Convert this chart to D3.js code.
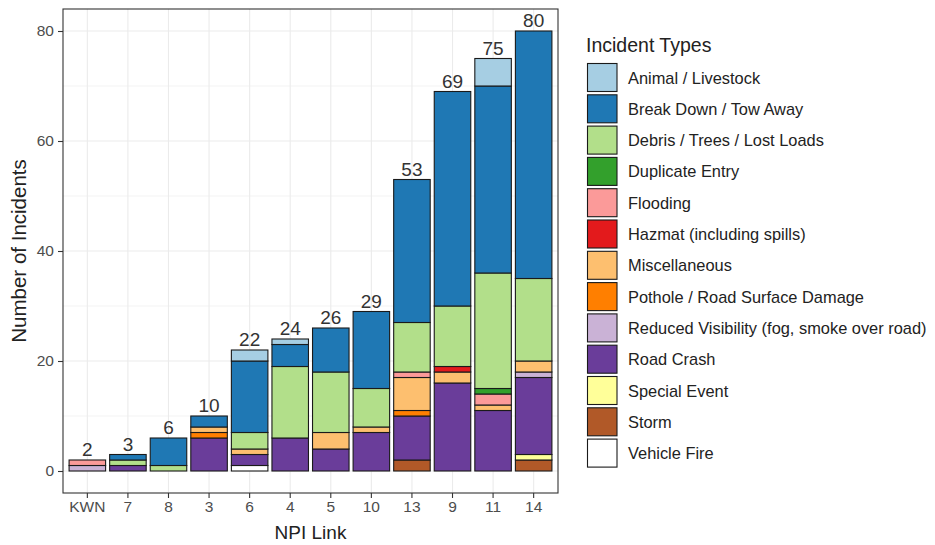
<!DOCTYPE html>
<html><head><meta charset="utf-8">
<script src="https://cdn.jsdelivr.net/npm/d3@7"></script>
<style>body{margin:0;background:#fff;} svg{display:block;font-family:"Liberation Sans",Arial,sans-serif;}</style>
</head><body>
<svg id="chart" width="935" height="545"></svg>
<script>
const categories = ["KWN","7","8","3","6","4","5","10","13","9","11","14"];
const incidentTypes = ["Animal / Livestock","Break Down / Tow Away","Debris / Trees / Lost Loads","Duplicate Entry","Flooding","Hazmat (including spills)","Miscellaneous","Pothole / Road Surface Damage","Reduced Visibility (fog, smoke over road)","Road Crash","Special Event","Storm","Vehicle Fire"];
const typeColors = ["#A6CEE3","#1F78B4","#B2DF8A","#33A02C","#FB9A99","#E31A1C","#FDBF6F","#FF7F00","#CAB2D6","#6A3D9A","#FFFF99","#B15928","#FFFFFF"];
const animal      = [0,0,0,0,2,1,0,0,0,0,5,0];
const breakDown   = [0,1,5,2,13,4,8,14,26,39,34,45];
const debris      = [0,1,1,0,3,13,11,7,9,11,21,15];
const duplicate   = [0,0,0,0,0,0,0,0,0,0,1,0];
const flooding    = [1,0,0,0,0,0,0,0,1,0,2,0];
const hazmat      = [0,0,0,0,0,0,0,0,0,1,0,0];
const misc        = [0,0,0,1,1,0,3,1,6,2,1,2];
const pothole     = [0,0,0,1,0,0,0,0,1,0,0,0];
const reducedVis  = [1,0,0,0,0,0,0,0,0,0,0,1];
const roadCrash   = [0,1,0,6,2,6,4,7,8,16,11,14];
const specialEvt  = [0,0,0,0,0,0,0,0,0,0,0,1];
const storm       = [0,0,0,0,0,0,0,0,2,0,0,2];
const vehicleFire = [0,0,0,0,1,0,0,0,0,0,0,0];
const seriesValues = [animal,breakDown,debris,duplicate,flooding,hazmat,misc,pothole,reducedVis,roadCrash,specialEvt,storm,vehicleFire];
const yTicks = [0,20,40,60,80];
const yMinor = [10,30,50,70];

const table = categories.map((c,i)=>{
  const row = {cat:c};
  incidentTypes.forEach((t,j)=>row[t]=seriesValues[j][i]);
  row.total = d3.sum(seriesValues, s=>s[i]);
  return row;
});

const svg = d3.select("#chart");
const P = {l:63, r:558, t:9, b:493};
const x = d3.scaleBand().domain(categories).range([P.l,P.r]).paddingInner(0.1).paddingOuter(0.15);
const y = d3.scaleLinear().domain([-4,84]).range([P.b,P.t]);
const color = d3.scaleOrdinal().domain(incidentTypes).range(typeColors);

// grid
const g = svg.append("g");
g.selectAll(".mn").data(yMinor).join("line").attr("x1",P.l).attr("x2",P.r)
 .attr("y1",d=>y(d)).attr("y2",d=>y(d)).attr("stroke","#EBEBEB").attr("stroke-width",0.6);
g.selectAll(".mj").data(yTicks).join("line").attr("x1",P.l).attr("x2",P.r)
 .attr("y1",d=>y(d)).attr("y2",d=>y(d)).attr("stroke","#EBEBEB").attr("stroke-width",1.1);
g.selectAll(".vx").data(categories).join("line").attr("y1",P.t).attr("y2",P.b)
 .attr("x1",d=>x(d)+x.bandwidth()/2).attr("x2",d=>x(d)+x.bandwidth()/2).attr("stroke","#EBEBEB").attr("stroke-width",1.1);

// stacked bars
const stack = d3.stack().keys(incidentTypes.slice().reverse());
const layers = stack(table);
svg.append("g").selectAll("g").data(layers).join("g")
  .attr("fill",d=>color(d.key))
  .selectAll("rect").data(d=>d.filter(s=>s[1]-s[0]>0)).join("rect")
  .attr("x",d=>x(d.data.cat)).attr("width",x.bandwidth())
  .attr("y",d=>y(d[1])).attr("height",d=>y(d[0])-y(d[1]))
  .attr("stroke","#1a1a1a").attr("stroke-width",1.1);

// totals
svg.append("g").selectAll("text").data(table).join("text")
  .attr("x",d=>x(d.cat)+x.bandwidth()/2).attr("y",d=>y(d.total)-4)
  .attr("text-anchor","middle").attr("font-size",19).attr("fill","#333")
  .text(d=>d.total);

// panel border
svg.append("rect").attr("x",P.l).attr("y",P.t).attr("width",P.r-P.l).attr("height",P.b-P.t)
  .attr("fill","none").attr("stroke","#333").attr("stroke-width",1.1);

// axes
const yAxis = svg.append("g").attr("transform",`translate(${P.l},0)`)
  .call(d3.axisLeft(y).tickValues(yTicks).tickSize(5).tickPadding(4));
const xAxis = svg.append("g").attr("transform",`translate(0,${P.b})`)
  .call(d3.axisBottom(x).tickSize(5).tickPadding(3));
[yAxis,xAxis].forEach(a=>{
  a.select(".domain").remove();
  a.selectAll(".tick line").attr("stroke","#333").attr("stroke-width",1.1);
  a.selectAll(".tick text").attr("fill","#4D4D4D").attr("font-size",15.5).attr("font-family","Liberation Sans, Arial, sans-serif");
});

svg.append("text").attr("transform",`translate(26,${(P.t+P.b)/2}) rotate(-90)`)
  .attr("text-anchor","middle").attr("font-size",20.5).attr("fill","#222").text("Number of Incidents");
svg.append("text").attr("x",(P.l+P.r)/2).attr("y",539)
  .attr("text-anchor","middle").attr("font-size",19).attr("fill","#222").text("NPI Link");

// legend
const L = svg.append("g").attr("transform","translate(587,0)");
L.append("text").attr("x",-1).attr("y",52).attr("font-size",19.5).attr("fill","#222").text("Incident Types");
const items = L.selectAll(".it").data(incidentTypes).join("g")
  .attr("transform",(d,i)=>`translate(0,${63.5+i*31.3})`);
items.append("rect").attr("x",0.5).attr("y",0).attr("width",29.5).attr("height",28)
  .attr("fill",d=>color(d)).attr("stroke","#1a1a1a").attr("stroke-width",1.1);
items.append("text").attr("x",41).attr("y",20).attr("font-size",16.4).attr("fill","#222").text(d=>d);
</script>
</body></html>
